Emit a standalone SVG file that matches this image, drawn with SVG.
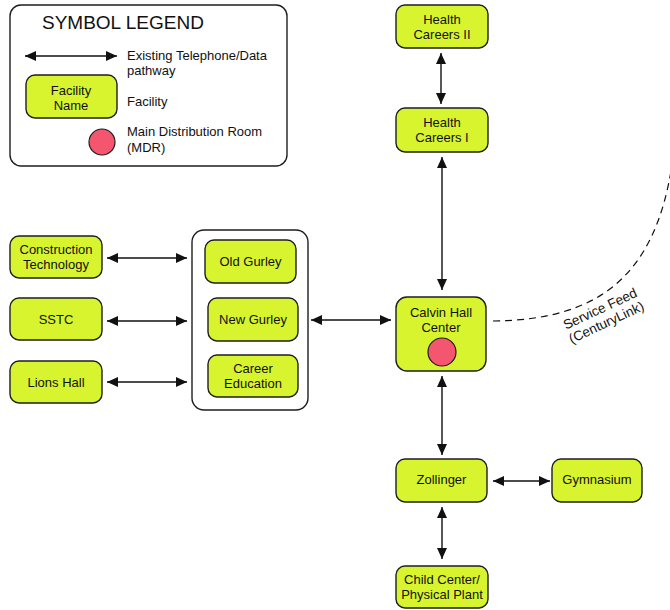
<svg xmlns="http://www.w3.org/2000/svg" width="670" height="610" viewBox="0 0 670 610">
  <style>
    .fac { fill: #d7f42f; stroke: #1e1e1e; stroke-width: 1.4; }
    .mdr { fill: #f5566f; stroke: #1e1e1e; stroke-width: 1.2; }
    .frame { fill: #ffffff; stroke: #1e1e1e; stroke-width: 1.4; }
    .lbl { font-family: "Liberation Sans", Arial, sans-serif; font-size: 13px; fill: #111; text-anchor: middle; }
    .note { font-family: "Liberation Sans", Arial, sans-serif; font-size: 13px; fill: #111; }
    .title { font-family: "Liberation Sans", Arial, sans-serif; font-size: 19px; fill: #111; }
    .feedlbl { font-family: "Liberation Sans", Arial, sans-serif; font-size: 13.5px; fill: #111; text-anchor: middle; }
    .link { stroke: #111; stroke-width: 1.4; fill: none; marker-start: url(#head); marker-end: url(#head); }
    .feed { stroke: #111; stroke-width: 1.2; fill: none; stroke-dasharray: 7 5; }
  </style>
  <defs>
    <marker id="head" markerUnits="userSpaceOnUse" markerWidth="12" markerHeight="10" refX="11" refY="5" orient="auto-start-reverse">
      <path d="M0,0 L11,5 L0,10 z" fill="#111"/>
    </marker>
  </defs>

  <!-- legend -->
  <g id="legend">
    <rect class="frame" x="10" y="5" width="277" height="161" rx="11"/>
    <text class="title" x="42" y="29">SYMBOL LEGEND</text>
    <line class="link" x1="25" y1="56" x2="117" y2="56"/>
    <text class="note" x="127" y="60">Existing Telephone/Data</text>
    <text class="note" x="127" y="75">pathway</text>
    <rect class="fac" x="26" y="75" width="91" height="43" rx="9"/>
    <text class="lbl" x="71" y="95">Facility</text>
    <text class="lbl" x="71" y="110">Name</text>
    <text class="note" x="127" y="106">Facility</text>
    <circle class="mdr" cx="102" cy="142" r="13"/>
    <text class="note" x="127" y="136">Main Distribution Room</text>
    <text class="note" x="127" y="152">(MDR)</text>
  </g>

  <!-- connectors -->
  <g id="connectors">
    <line class="link" x1="441" y1="53" x2="441" y2="104"/>
    <line class="link" x1="442" y1="157" x2="442" y2="290"/>
    <line class="link" x1="311" y1="320" x2="391" y2="320"/>
    <line class="link" x1="107" y1="258" x2="187" y2="258"/>
    <line class="link" x1="107" y1="321" x2="187" y2="321"/>
    <line class="link" x1="107" y1="382" x2="187" y2="382"/>
    <line class="link" x1="442" y1="376" x2="442" y2="455"/>
    <line class="link" x1="493" y1="481" x2="550" y2="481"/>
    <line class="link" x1="442" y1="507" x2="442" y2="559"/>
    <path class="feed" d="M493,321 C600,320 655,275 672,165"/>
    <g transform="translate(602,313) rotate(-25)">
      <text class="feedlbl" x="0" y="0">Service Feed</text>
      <text class="feedlbl" x="0" y="15">(CenturyLink)</text>
    </g>
  </g>

  <!-- Gurley complex enclosure -->
  <g id="gurley-complex">
    <rect class="frame" x="192" y="230" width="116" height="180" rx="12"/>
  </g>

  <g id="health-careers-2">
    <rect class="fac" x="396" y="5" width="92" height="43" rx="9"/>
    <text class="lbl" x="442" y="24">Health</text>
    <text class="lbl" x="442" y="39">Careers II</text>
  </g>
  <g id="health-careers-1">
    <rect class="fac" x="396" y="108" width="92" height="44" rx="9"/>
    <text class="lbl" x="442" y="127">Health</text>
    <text class="lbl" x="442" y="142">Careers I</text>
  </g>
  <g id="calvin-hall">
    <rect class="fac" x="396" y="297" width="90" height="74" rx="11"/>
    <text class="lbl" x="441" y="317">Calvin Hall</text>
    <text class="lbl" x="441" y="332">Center</text>
    <circle class="mdr" cx="442" cy="352" r="14"/>
  </g>
  <g id="old-gurley">
    <rect class="fac" x="205" y="240" width="91" height="43" rx="9"/>
    <text class="lbl" x="250.5" y="266">Old Gurley</text>
  </g>
  <g id="new-gurley">
    <rect class="fac" x="208" y="298" width="90" height="43" rx="9"/>
    <text class="lbl" x="253" y="324">New Gurley</text>
  </g>
  <g id="career-education">
    <rect class="fac" x="208" y="355" width="90" height="42" rx="9"/>
    <text class="lbl" x="253" y="373">Career</text>
    <text class="lbl" x="253" y="388">Education</text>
  </g>
  <g id="construction-technology">
    <rect class="fac" x="10" y="236" width="92" height="42" rx="9"/>
    <text class="lbl" x="56" y="254">Construction</text>
    <text class="lbl" x="56" y="269">Technology</text>
  </g>
  <g id="sstc">
    <rect class="fac" x="10" y="298" width="92" height="42" rx="9"/>
    <text class="lbl" x="56" y="324">SSTC</text>
  </g>
  <g id="lions-hall">
    <rect class="fac" x="10" y="361" width="92" height="42" rx="9"/>
    <text class="lbl" x="56" y="387">Lions Hall</text>
  </g>
  <g id="zollinger">
    <rect class="fac" x="396" y="459" width="91" height="43" rx="9"/>
    <text class="lbl" x="441.5" y="484">Zollinger</text>
  </g>
  <g id="gymnasium">
    <rect class="fac" x="552" y="459" width="90" height="43" rx="9"/>
    <text class="lbl" x="597" y="484">Gymnasium</text>
  </g>
  <g id="child-center">
    <rect class="fac" x="396" y="566" width="92" height="42" rx="9"/>
    <text class="lbl" x="442" y="584">Child Center/</text>
    <text class="lbl" x="442" y="599">Physical Plant</text>
  </g>
</svg>
